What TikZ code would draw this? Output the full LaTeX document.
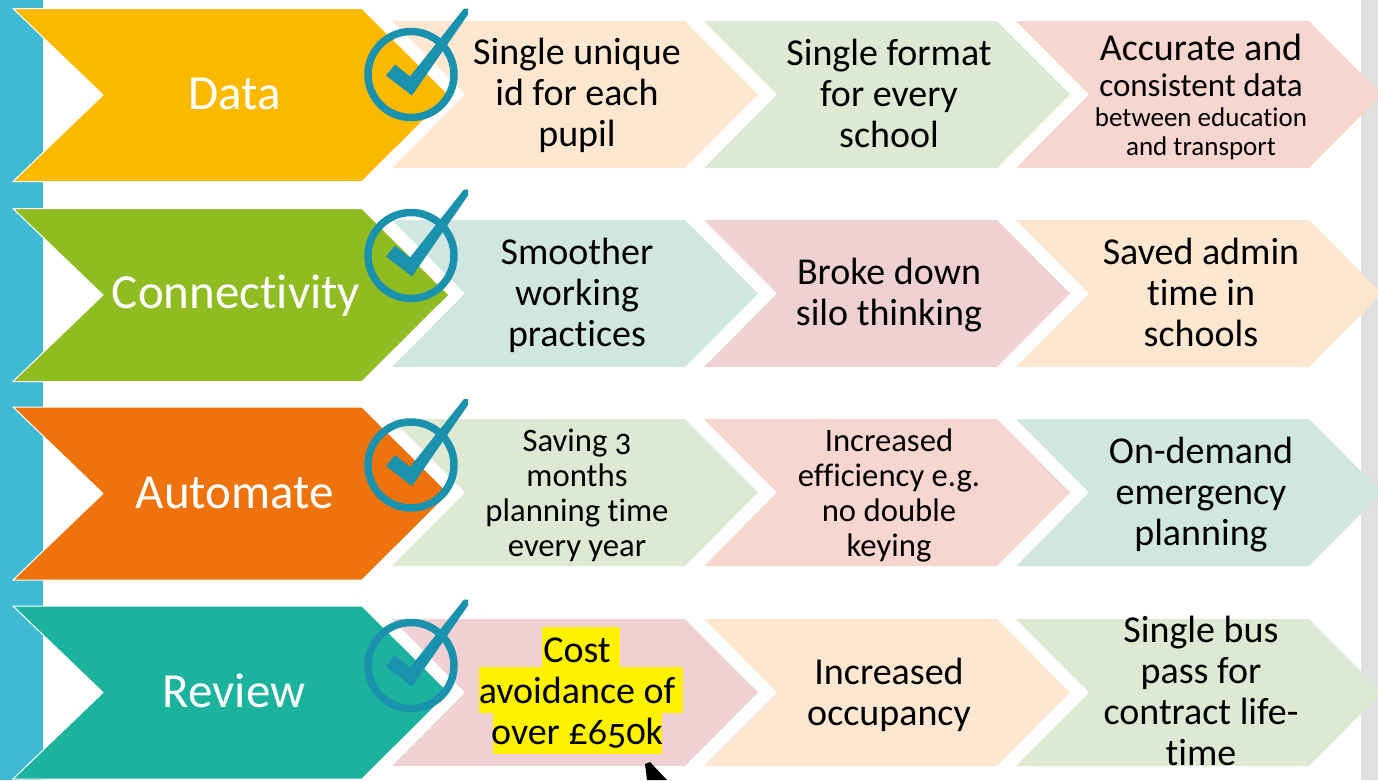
\documentclass[tikz,border=0pt]{standalone}
\usepackage{fontspec}
\setmainfont[Numbers=OldStyle,Ligatures=NoCommon]{Carlito}
\definecolor{stripeblue}{HTML}{3FBAD3}
\definecolor{sidegray}{HTML}{E0E0E0}
\definecolor{cYellow}{HTML}{FBB900}
\definecolor{cGreen}{HTML}{8FBC21}
\definecolor{cOrange}{HTML}{EF730D}
\definecolor{cTeal}{HTML}{1BB29E}
\definecolor{lPeach}{HTML}{FDE7D0}
\definecolor{lGreen}{HTML}{DEE9D3}
\definecolor{lSalmon}{HTML}{F7D6D0}
\definecolor{lAqua}{HTML}{CFE6E1}
\definecolor{lPink}{HTML}{F0D1D3}
\definecolor{tickblue}{HTML}{1B92AD}
\newcommand{\mainchev}[2]{%
  \fill[#2,draw=white,line width=1pt] (13,#1) -- (362,#1) -- (449,#1+86.5) -- (362,#1+173) -- (13,#1+173) -- (103,#1+86.5) -- cycle;}
\newcommand{\lightchev}[3]{%
  \fill[#3] (#1,#2) -- (#1+293,#2) -- (#1+366,#2+73.5) -- (#1+293,#2+147) -- (#1,#2+147) -- (#1+73,#2+73.5) -- cycle;}
\newcommand{\tickmark}[1]{%
  \draw[tickblue,line width=7.5pt] (411,#1) circle[radius=43];
  \fill[tickblue] (386,#1+1) -- (395,#1-10) -- (410,#1+2) -- (464,#1-66) -- (468,#1-66) -- (468,#1-60) -- (412,#1+21) -- cycle;}
\tikzset{
  maintext/.style={text=white,font=\fontsize{49}{53}\selectfont,anchor=center},
  bodytext/.style={text=black,align=center,anchor=center,font=\fontsize{38}{41}\selectfont},
  smalltext/.style={text=black,align=center,anchor=center,font=\fontsize{32.7}{35}\selectfont},
  stackline/.style={text=black,anchor=base,font=\fontsize{#1}{#1}\selectfont},
}
\begin{document}
\begin{tikzpicture}[x=1pt,y=-1pt]
\useasboundingbox (0,0) rectangle (1378,780);
\fill[white] (0,0) rectangle (1378,780);
\fill[stripeblue] (0,0) rectangle (43,780);
\fill[sidegray] (1361,0) rectangle (1378,780);
% light chevrons
\lightchev{392}{21}{lPeach}\lightchev{704}{21}{lGreen}\lightchev{1016}{21}{lSalmon}
\lightchev{392}{220}{lAqua}\lightchev{704}{220}{lPink}\lightchev{1016}{220}{lPeach}
\lightchev{392}{419}{lGreen}\lightchev{704}{419}{lSalmon}\lightchev{1016}{419}{lAqua}
\lightchev{392}{619}{lPink}\lightchev{704}{619}{lPeach}\lightchev{1016}{619}{lGreen}
% main chevrons
\mainchev{8.5}{cYellow}
\mainchev{208.5}{cGreen}
\mainchev{407}{cOrange}
\mainchev{606}{cTeal}
\node[maintext] (tData) at (235,94) {Data};
\node[maintext] (tConn) at (236,296) {Connectivity};
\node[maintext] (tAuto) at (235,493) {Automate};
\node[maintext] (tRev) at (234,691) {Review};
% ticks
\tickmark{74.5}
\tickmark{255.5}
\tickmark{465}
\tickmark{665.5}
% row 1
\node[bodytext] (a1) at (577,95) {Single unique\\id for each\\pupil};
\node[bodytext] (a2) at (889,93) {Single format\\for every\\school};
\node[stackline=38] (a3a) at (1201,60) {Accurate and};
\node[stackline=33] (a3b) at (1201,96) {consistent data};
\node[stackline=27] (a3c) at (1201,126) {between education};
\node[stackline=27] (a3d) at (1201,155) {and transport};
% row 2
\node[bodytext] (b1) at (577,295) {Smoother\\working\\practices};
\node[bodytext] (b2) at (889,295) {Broke down\\silo thinking};
\node[bodytext] (b3) at (1201,292) {Saved admin\\time in\\schools};
% row 3
\node[smalltext] (c1) at (577,495) {Saving 3\\months\\planning time\\every year};
\node[smalltext] (c2) at (889,495) {Increased\\efficiency e.g.\\no double\\keying};
\node[bodytext] (c3) at (1201,495) {On-demand\\emergency\\planning};
% row 4
\fill[yellow] (542,627) rectangle (620,667);
\fill[yellow] (479,667) rectangle (683,713);
\fill[yellow] (493,713) rectangle (662,754);
\node[bodytext] (d1) at (577,693) {Cost\\avoidance of\\over £650k};
\node[bodytext] (d2) at (889,695) {Increased\\occupancy};
\node[bodytext] (d3) at (1201,691) {Single bus\\pass for\\contract life-\\time};
\fill[black] (645,764) -- (650,762) -- (667,780) -- (647,780) -- cycle;
\end{tikzpicture}
\end{document}
